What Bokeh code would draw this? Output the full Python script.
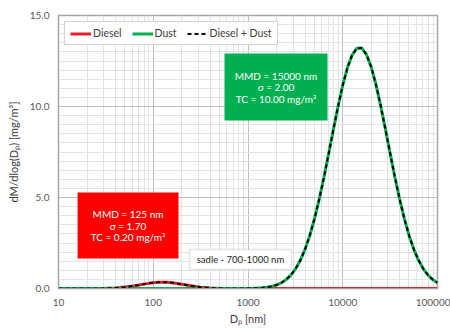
from bokeh.plotting import figure
from bokeh.models import (Range1d, LogTicker, SingleIntervalTicker, NumeralTickFormatter,
                          BoxAnnotation, Label, Legend, LegendItem)
from bokeh.embed import file_html
from bokeh.resources import INLINE

# Particle diameter Dp [nm]
dp = [10, 11.22, 12.59, 14.13, 15.85, 17.78, 19.95, 22.39, 25.12, 28.18,
      31.62, 35.48, 39.81, 44.67, 50.12, 56.23, 63.10, 70.79, 79.43, 89.13,
      100, 112.2, 125.9, 141.3, 158.5, 177.8, 199.5, 223.9, 251.2, 281.8,
      316.2, 354.8, 398.1, 446.7, 501.2, 562.3, 631.0, 707.9, 794.3, 891.3,
      1000, 1122, 1259, 1413, 1585, 1778, 1995, 2239, 2512, 2818,
      3162, 3548, 3981, 4467, 5012, 5623, 6310, 7079, 7943, 8913,
      10000, 11220, 12589, 14125, 15849, 17783, 19953, 22387, 25119, 28184,
      31623, 35481, 39811, 44668, 50119, 56234, 63096, 70795, 79433, 89125,
      100000]

diesel = [0, 0, 0, 0.0001, 0.0002, 0.0004, 0.0009, 0.0018, 0.0036, 0.0067,
          0.0121, 0.0207, 0.0339, 0.0528, 0.0786, 0.1115, 0.1510, 0.1950, 0.2403, 0.2826,
          0.3169, 0.3391, 0.3462, 0.3372, 0.3133, 0.2777, 0.2348, 0.1894, 0.1458, 0.1070,
          0.0750, 0.0501, 0.0320, 0.0194, 0.0113, 0.0062, 0.0033, 0.0017, 0.0008, 0.0004,
          0.0002, 0.0001, 0, 0, 0, 0, 0, 0, 0, 0,
          0, 0, 0, 0, 0, 0, 0, 0, 0, 0,
          0, 0, 0, 0, 0, 0, 0, 0, 0, 0,
          0, 0, 0, 0, 0, 0, 0, 0, 0, 0,
          0]

dust = [0, 0, 0, 0, 0, 0, 0, 0, 0, 0,
        0, 0, 0, 0, 0, 0, 0, 0, 0, 0,
        0, 0, 0, 0, 0, 0, 0, 0, 0, 0,
        0, 0, 0, 0, 0, 0, 0.0004, 0.0008, 0.0017, 0.0033,
        0.0064, 0.0121, 0.0222, 0.0397, 0.0690, 0.1167, 0.1920, 0.3070, 0.4773, 0.7228,
        1.0642, 1.5243, 2.1232, 2.8780, 3.7947, 4.8670, 6.0722, 7.3706, 8.7024, 9.9955,
        11.1686, 12.1395, 12.8359, 13.2029, 13.2108, 12.8592, 12.1761, 11.2157, 10.0498, 8.7602,
        7.4283, 6.1272, 4.9170, 3.8382, 2.9146, 2.1529, 1.5474, 1.0816, 0.7357, 0.4865,
        0.3132]

total = [a + b for a, b in zip(diesel, dust)]

series_names = ["Diesel", "Dust", "Diesel + Dust"]
dust_box_lines = ["MMD = 15000 nm", "\u03c3 = 2.00", "TC = 10.00 mg/m\u00b3"]
diesel_box_lines = ["MMD = 125 nm", "\u03c3 = 1.70", "TC = 0.20 mg/m\u00b3"]
sadle_text = "sadle - 700-1000 nm"

FONT = "Lato"
RED = "#ff0000"
GREEN = "#00b050"

p = figure(width=450, height=329, x_axis_type="log",
           x_range=Range1d(10, 100000), y_range=Range1d(0, 15),
           output_backend="svg", toolbar_location=None,
           min_border_left=58, min_border_right=13, min_border_top=15, min_border_bottom=41)

p.background_fill_color = "white"
p.border_fill_color = "white"
p.outline_line_color = "#a6a6a6"
p.outline_line_width = 1.5

# ticks / grids
p.xaxis.ticker = LogTicker(num_minor_ticks=10)
p.yaxis.ticker = SingleIntervalTicker(interval=5, num_minor_ticks=10)
p.xaxis.formatter = NumeralTickFormatter(format="0")
p.yaxis.formatter = NumeralTickFormatter(format="0.0")

p.xgrid.grid_line_color = "#bfbfbf"
p.ygrid.grid_line_color = "#bfbfbf"
p.xgrid.minor_grid_line_color = "#e3e3e3"
p.ygrid.minor_grid_line_color = "#e3e3e3"

for ax in (p.xaxis, p.yaxis):
    ax.axis_line_color = "#a6a6a6"
    ax.major_tick_line_color = None
    ax.minor_tick_line_color = None
    ax.major_tick_out = 0
    ax.major_tick_in = 0
    ax.minor_tick_out = 0
    ax.minor_tick_in = 0
    ax.major_label_text_font = FONT
    ax.major_label_text_font_size = "10px"
    ax.major_label_text_color = "#595959"
    ax.axis_label_text_font = FONT
    ax.axis_label_text_font_size = "11px"
    ax.axis_label_text_font_style = "normal"
    ax.axis_label_text_color = "#404040"

p.xaxis.major_label_standoff = 10
p.xaxis.axis_label_standoff = 3
p.yaxis.major_label_standoff = 9
p.yaxis.axis_label_standoff = 7
p.xaxis.axis_label = "D\u209a [nm]"
p.yaxis.axis_label = "dM/dlog(D\u209a) [mg/m\u00b3]"

# curves
r_diesel = p.line(dp, diesel, line_color="#e8202a", line_width=3)
r_dust = p.line(dp, dust, line_color=GREEN, line_width=3)
r_total = p.line(dp, total, line_color="black", line_width=2, line_dash="4 3")

legend = Legend(items=[LegendItem(label=series_names[0], renderers=[r_diesel]),
                       LegendItem(label=series_names[1], renderers=[r_dust]),
                       LegendItem(label=series_names[2], renderers=[r_total])],
                location="top_left", orientation="horizontal")
legend.margin = 6
legend.padding = 5
legend.spacing = 10
legend.glyph_width = 21
legend.glyph_height = 9
legend.label_height = 9
legend.label_standoff = 2
legend.label_text_font = FONT
legend.label_text_font_size = "10.5px"
legend.label_text_color = "#404040"
legend.border_line_color = "#a6a6a6"
legend.border_line_width = 1.5
legend.background_fill_alpha = 1
p.add_layout(legend)

# annotation boxes
p.add_layout(BoxAnnotation(left=565, right=6905, bottom=9.23, top=12.91,
                           fill_color=GREEN, fill_alpha=1, line_color=None))
p.add_layout(BoxAnnotation(left=15.9, right=184.7, bottom=1.65, top=5.27,
                           fill_color=RED, fill_alpha=1, line_color=None))
p.add_layout(BoxAnnotation(left=241, right=2878, bottom=1.04, top=2.14,
                           fill_color="white", fill_alpha=1, line_color="#a6a6a6", line_width=1.5))

def add_lines(x, y, lines, color, size="10px"):
    for i, t in enumerate(lines):
        p.add_layout(Label(x=x, y=y, text=t, text_align="center", text_baseline="middle",
                           y_offset=(len(lines) - 1) / 2 * 11.5 - i * 11.5, text_font=FONT,
                           text_font_size=size, text_color=color))

add_lines(1975, 11.07, dust_box_lines, "white")
add_lines(54.2, 3.46, diesel_box_lines, "white")
add_lines(833, 1.59, [sadle_text], "#262626", "9.5px")

open("out.html", "w").write(file_html(p, INLINE))
